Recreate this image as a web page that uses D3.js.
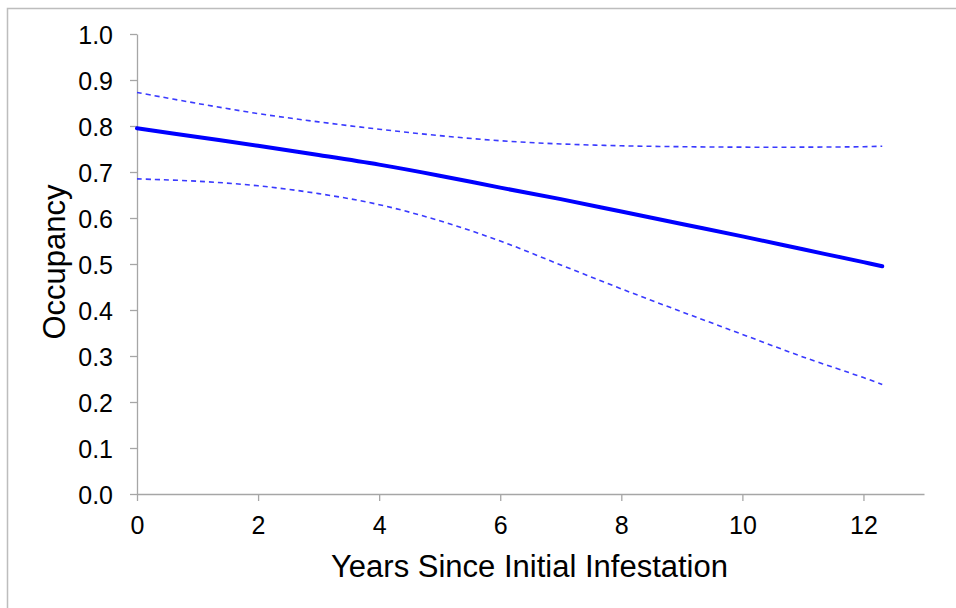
<!DOCTYPE html>
<html>
<head>
<meta charset="utf-8">
<script src="https://cdn.jsdelivr.net/npm/d3@7"></script>
<style>
  html, body { margin: 0; padding: 0; background: #fff; }
  svg { display: block; }
  text { font-family: "Liberation Sans", Arial, sans-serif; fill: #000; }
</style>
</head>
<body>
<svg id="chart" width="956" height="608"></svg>
<script>
// Data
const years = [0, 1, 2, 3, 4, 5, 6, 7, 8, 9, 10, 11, 12, 12.31];
const occupancy = [0.795, 0.776, 0.757, 0.737, 0.716, 0.692, 0.666, 0.641, 0.614, 0.587, 0.560, 0.532, 0.504, 0.495];
const upperCI = [0.873, 0.849, 0.827, 0.809, 0.793, 0.779, 0.768, 0.761, 0.757, 0.755, 0.754, 0.754, 0.755, 0.756];
const lowerCI = [0.685, 0.680, 0.670, 0.653, 0.629, 0.594, 0.550, 0.498, 0.446, 0.396, 0.347, 0.298, 0.253, 0.238];
const xTicks = [0, 2, 4, 6, 8, 10, 12];
const yTicks = [0, 0.1, 0.2, 0.3, 0.4, 0.5, 0.6, 0.7, 0.8, 0.9, 1.0];
const xTitle = "Years Since Initial Infestation";
const yTitle = "Occupancy";

const svg = d3.select("#chart");
const mLeft = 137, mRight = 924, mTop = 34, mBottom = 494;

// outer frame
svg.append("rect")
  .attr("x", 7.5).attr("y", 8.5).attr("width", 1000).attr("height", 700)
  .attr("fill", "none").attr("stroke", "#bdbdbd").attr("stroke-width", 1.5);

const x = d3.scaleLinear().domain([0, 13]).range([mLeft, mRight]);
const y = d3.scaleLinear().domain([0, 1]).range([mBottom, mTop]);

const axisColor = "#a6a6a6";

// x axis
const gx = svg.append("g").attr("transform", `translate(0,${mBottom})`)
  .call(d3.axisBottom(x).tickValues(xTicks).tickFormat(d3.format("d")).tickSize(7).tickSizeOuter(0).tickPadding(15));
gx.select(".domain").attr("stroke", axisColor).attr("stroke-width", 1.3);
gx.selectAll(".tick line").attr("stroke", axisColor).attr("stroke-width", 1.3);
gx.selectAll(".tick text").attr("font-size", 25).attr("font-family", "Liberation Sans, Arial, sans-serif").attr("fill", "#000");

// y axis
const gy = svg.append("g").attr("transform", `translate(${mLeft},0)`)
  .call(d3.axisLeft(y).tickValues(yTicks).tickFormat(d3.format(".1f")).tickSize(7).tickSizeOuter(0).tickPadding(17));
gy.select(".domain").attr("stroke", axisColor).attr("stroke-width", 1.3);
gy.selectAll(".tick line").attr("stroke", axisColor).attr("stroke-width", 1.3);
gy.selectAll(".tick text").attr("font-size", 25).attr("font-family", "Liberation Sans, Arial, sans-serif").attr("fill", "#000").attr("dy", "0.38em");

// titles
svg.append("text")
  .attr("x", (mLeft + mRight) / 2 - 1).attr("y", 577)
  .attr("text-anchor", "middle").attr("font-size", 31)
  .text(xTitle);
svg.append("text")
  .attr("transform", `translate(65,${(mTop + mBottom) / 2 - 2}) rotate(-90)`)
  .attr("text-anchor", "middle").attr("font-size", 31)
  .text(yTitle);

const line = (vals) => d3.line()
  .x((d, i) => x(years[i]))
  .y(d => y(d))
  .curve(d3.curveCatmullRom.alpha(0.5))(vals);

svg.append("path").attr("d", line(upperCI))
  .attr("fill", "none").attr("stroke", "#3a3aff").attr("stroke-width", 1.6)
  .attr("stroke-dasharray", "5,4");
svg.append("path").attr("d", line(lowerCI))
  .attr("fill", "none").attr("stroke", "#3a3aff").attr("stroke-width", 1.6)
  .attr("stroke-dasharray", "5,4");
svg.append("path").attr("d", line(occupancy))
  .attr("fill", "none").attr("stroke", "#0000ff").attr("stroke-width", 4)
  .attr("stroke-linecap", "round");
</script>
</body>
</html>
